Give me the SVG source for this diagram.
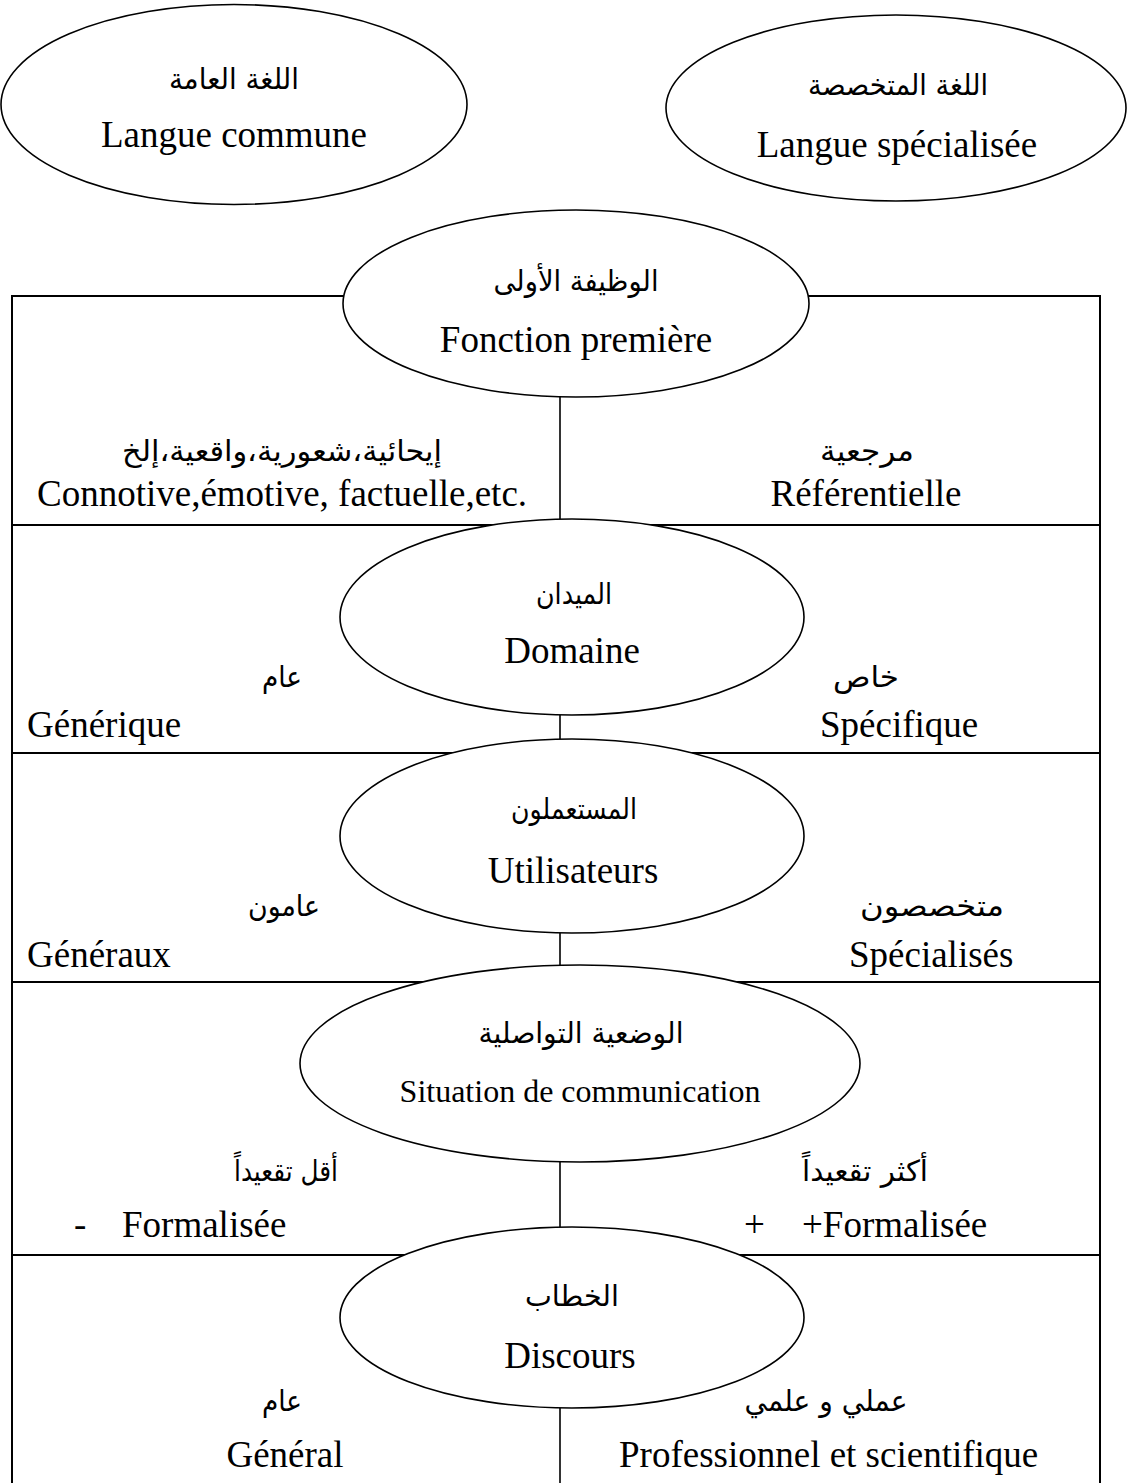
<svg xmlns="http://www.w3.org/2000/svg" width="1128" height="1483" viewBox="0 0 1128 1483">
<style>
  .bg { fill: #ffffff; }
  .frame { stroke: #000; stroke-width: 2; fill: none; }
  .conn { stroke: #000; stroke-width: 1.6; fill: none; }
  .node { fill: #ffffff; stroke: #000; stroke-width: 1.6; }
  .fr { font-family: "Liberation Serif", "Times New Roman", serif; font-size: 37px; fill: #000; }
  .ar { font-family: "DejaVu Sans", "Noto Sans", sans-serif; font-size: 29px; fill: #000; }
  .mid { text-anchor: middle; }
</style>
<rect class="bg" x="0" y="0" width="1128" height="1483"/>

<g id="table">
  <polyline class="frame" points="12,1483 12,296 1100,296 1100,1483"/>
  <line class="frame" x1="12" y1="525" x2="1100" y2="525"/>
  <line class="frame" x1="12" y1="753" x2="1100" y2="753"/>
  <line class="frame" x1="12" y1="982" x2="1100" y2="982"/>
  <line class="frame" x1="12" y1="1255" x2="1100" y2="1255"/>
</g>

<g id="connectors">
  <line class="conn" x1="560" y1="397" x2="560" y2="519"/>
  <line class="conn" x1="560" y1="715" x2="560" y2="739"/>
  <line class="conn" x1="560" y1="933" x2="560" y2="965"/>
  <line class="conn" x1="560" y1="1162" x2="560" y2="1227"/>
  <line class="conn" x1="560" y1="1408" x2="560" y2="1483"/>
</g>

<g id="langue-commune">
  <ellipse class="node" cx="234" cy="104.5" rx="233" ry="100"/>
  <text class="ar mid" x="234" y="89" textLength="130" lengthAdjust="spacingAndGlyphs">اللغة العامة</text>
  <text class="fr mid" x="234" y="147">Langue commune</text>
</g>

<g id="langue-specialisee">
  <ellipse class="node" cx="896" cy="108" rx="230" ry="93"/>
  <text class="ar mid" x="898" y="95" textLength="180" lengthAdjust="spacingAndGlyphs">اللغة المتخصصة</text>
  <text class="fr mid" x="897" y="157">Langue spécialisée</text>
</g>

<g id="fonction">
  <ellipse class="node" cx="576" cy="303.5" rx="233" ry="93.5"/>
  <text class="ar mid" x="576" y="291" textLength="165" lengthAdjust="spacingAndGlyphs">الوظيفة الأولى</text>
  <text class="fr mid" x="576" y="352">Fonction première</text>
</g>

<g id="fonction-values">
  <text class="ar mid" x="282" y="461" textLength="320" lengthAdjust="spacingAndGlyphs">إيحائية،شعورية،واقعية،إلخ</text>
  <text class="fr" x="37" y="506">Connotive,émotive, factuelle,etc.</text>
  <text class="ar mid" x="867" y="461" textLength="94" lengthAdjust="spacingAndGlyphs">مرجعية</text>
  <text class="fr mid" x="866" y="506">Référentielle</text>
</g>

<g id="domaine">
  <ellipse class="node" cx="572" cy="617" rx="232" ry="98"/>
  <text class="ar mid" x="574" y="604" textLength="76" lengthAdjust="spacingAndGlyphs">الميدان</text>
  <text class="fr mid" x="572" y="663">Domaine</text>
</g>

<g id="domaine-values">
  <text class="ar mid" x="282" y="687" textLength="40" lengthAdjust="spacingAndGlyphs">عام</text>
  <text class="fr" x="27" y="737">Générique</text>
  <text class="ar mid" x="866" y="687" textLength="66" lengthAdjust="spacingAndGlyphs">خاص</text>
  <text class="fr" x="820" y="737">Spécifique</text>
</g>

<g id="utilisateurs">
  <ellipse class="node" cx="572" cy="836" rx="232" ry="97"/>
  <text class="ar mid" x="574" y="819" textLength="126" lengthAdjust="spacingAndGlyphs">المستعملون</text>
  <text class="fr mid" x="573" y="883">Utilisateurs</text>
</g>

<g id="utilisateurs-values">
  <text class="ar mid" x="284" y="916" textLength="72" lengthAdjust="spacingAndGlyphs">عامون</text>
  <text class="fr" x="27" y="967">Généraux</text>
  <text class="ar mid" x="932" y="916" textLength="144" lengthAdjust="spacingAndGlyphs">متخصصون</text>
  <text class="fr" x="849" y="967">Spécialisés</text>
</g>

<g id="situation">
  <ellipse class="node" cx="580" cy="1063.5" rx="280" ry="98.5"/>
  <text class="ar mid" x="581" y="1043" textLength="205" lengthAdjust="spacingAndGlyphs">الوضعية التواصلية</text>
  <text class="fr mid" x="580" y="1102" style="font-size:32px">Situation de communication</text>
</g>

<g id="situation-values">
  <text class="ar mid" x="286" y="1181" textLength="104" lengthAdjust="spacingAndGlyphs">أقل تقعيداً</text>
  <text class="fr" x="74" y="1237">-</text>
  <text class="fr" x="122" y="1237">Formalisée</text>
  <text class="ar mid" x="865" y="1181" textLength="126" lengthAdjust="spacingAndGlyphs">أكثر تقعيداً</text>
  <text class="fr" x="744" y="1237">+</text>
  <text class="fr" x="802" y="1237">+Formalisée</text>
</g>

<g id="discours">
  <ellipse class="node" cx="572" cy="1317.5" rx="232" ry="90.5"/>
  <text class="ar mid" x="572" y="1306" textLength="94" lengthAdjust="spacingAndGlyphs">الخطاب</text>
  <text class="fr mid" x="570" y="1368">Discours</text>
</g>

<g id="discours-values">
  <text class="ar mid" x="282" y="1411" textLength="40" lengthAdjust="spacingAndGlyphs">عام</text>
  <text class="fr mid" x="285" y="1467">Général</text>
  <text class="ar mid" x="826" y="1411" textLength="163" lengthAdjust="spacingAndGlyphs">عملي و علمي</text>
  <text class="fr" x="619" y="1467">Professionnel et scientifique</text>
</g>
</svg>
